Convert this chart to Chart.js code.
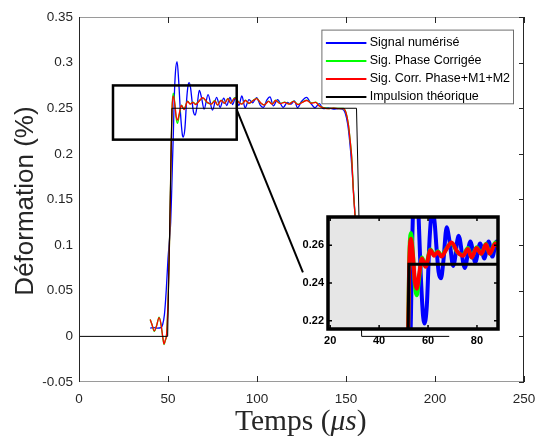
<!DOCTYPE html>
<html lang="fr">
<head>
<meta charset="utf-8">
<title>Déformation en fonction du temps</title>
<script src="https://cdn.jsdelivr.net/npm/chart.js@4.4.1/dist/chart.umd.min.js"></script>
<style>
  html, body { margin: 0; padding: 0; background: #fff; }
  #cadre { position: relative; width: 536px; height: 436px; }
  #loupe { position: absolute; left: 290px; top: 204px; }
</style>
</head>
<body>
<div id="cadre">
  <canvas id="graphe" width="536" height="436"></canvas>
  <canvas id="loupe" width="222" height="146"></canvas>
</div>
<script>
// ---------------------------------------------------------------------------
// Données (temps en µs, déformation en %)
// ---------------------------------------------------------------------------
const legende = ['Signal numérisé', 'Sig. Phase Corrigée', 'Sig. Corr. Phase+M1+M2', 'Impulsion théorique'];
const couleurs = ['#0000ff', '#00ff00', '#ff0000', '#000000'];

const tBleu = [40, 42, 44, 46, 47, 48, 49, 50, 51, 51.5, 52, 52.5, 53, 53.5, 54.2, 55.1, 56, 57, 58, 58.5,
  59.5, 60.5, 61.2, 61.9, 62.7, 63.5, 64.3, 65.3, 66.3, 67.6, 68.8, 70.3, 72.5, 75, 77.3, 79.3, 81.3, 83, 84.8, 86.3,
  88, 89.8, 91.5, 93.3, 95.5, 97.5, 99.8, 101.8, 103.6, 105.5, 107.3, 109.2, 111.5, 114.8, 117, 119, 121, 122.8, 125, 127.9,
  130, 132.6, 135, 137.3, 140, 143, 146, 148, 149.5, 151, 152.5, 153.5, 154.5, 155.5, 157, 158, 159];
const signalNumerise = [0.009, 0.0095, 0.009, 0.0095, 0.013, 0.024, 0.05, 0.085, 0.11, 0.125, 0.155, 0.19, 0.222, 0.26, 0.29, 0.301, 0.28, 0.245, 0.222, 0.2185,
  0.228, 0.26, 0.274, 0.278, 0.272, 0.258, 0.246, 0.2425, 0.252, 0.2695, 0.262, 0.249, 0.265, 0.248, 0.262, 0.251, 0.261, 0.253, 0.262, 0.254,
  0.262, 0.253, 0.2635, 0.2505, 0.2595, 0.256, 0.2615, 0.2535, 0.251, 0.259, 0.2625, 0.2525, 0.2595, 0.251, 0.2565, 0.2545, 0.258, 0.2505, 0.2575, 0.262,
  0.256, 0.2505, 0.255, 0.2495, 0.2505, 0.249, 0.2495, 0.249, 0.245, 0.232, 0.205, 0.18, 0.15, 0.12, 0.07, 0.035, 0.01];

const tCorr = [40, 41, 42.3, 43.5, 45, 46, 47, 47.8, 48.5, 49.2, 50.2, 51.1, 51.8, 52.3, 53, 53.8, 54.6, 55.4, 56.3, 57.5,
  59, 61, 62.5, 64, 65.5, 67.3, 69.6, 72, 74.3, 76.3, 77.8, 79.8, 81.8, 83.7, 85.2, 87.5, 89.5, 91.5, 93.5, 95.5,
  97.5, 99.8, 102, 104, 106.5, 108.5, 110.5, 113, 115.5, 118, 120.5, 123, 125.5, 128, 130.5, 133, 135, 137.5, 140, 143,
  146, 148.5, 150, 151.3, 152.3, 153.2, 154.1, 155.1, 156, 157, 158, 159];
const phaseCorrigee = [0.0185, 0.013, 0.0055, 0.011, 0.021, 0.014, 0.0, -0.009, -0.0045, 0.002, 0.05, 0.125, 0.21, 0.252, 0.2665, 0.256, 0.239, 0.2335, 0.242, 0.2535,
  0.249, 0.2578, 0.2548, 0.2568, 0.2545, 0.2578, 0.2612, 0.2562, 0.2548, 0.2585, 0.2535, 0.259, 0.2555, 0.2608, 0.2555, 0.2615, 0.2575, 0.2548, 0.2588, 0.2552,
  0.2583, 0.2608, 0.2558, 0.2538, 0.2578, 0.2548, 0.2588, 0.2553, 0.2568, 0.2548, 0.2578, 0.2543, 0.2568, 0.2588, 0.2558, 0.2568, 0.2528, 0.2508, 0.2497, 0.2502,
  0.2497, 0.2497, 0.2452, 0.233, 0.2155, 0.197, 0.162, 0.132, 0.101, 0.066, 0.031, 0.011];
const corrM1M2 = [0.0185, 0.013, 0.006, 0.011, 0.0205, 0.014, 0.0, -0.0085, -0.004, 0.002, 0.05, 0.125, 0.21, 0.25, 0.2635, 0.255, 0.241, 0.237, 0.244, 0.253,
  0.2486, 0.2574, 0.2545, 0.2565, 0.254, 0.2575, 0.2615, 0.2565, 0.2545, 0.258, 0.2535, 0.2585, 0.2555, 0.2605, 0.2555, 0.261, 0.257, 0.2545, 0.2585, 0.2555,
  0.258, 0.2605, 0.256, 0.2535, 0.2575, 0.2545, 0.2585, 0.255, 0.2565, 0.2545, 0.2575, 0.254, 0.2565, 0.2585, 0.2555, 0.2565, 0.2525, 0.2505, 0.2495, 0.25,
  0.2495, 0.2495, 0.245, 0.2326, 0.215, 0.196, 0.16, 0.131, 0.1, 0.065, 0.03, 0.01];

const tImpulsion = [0, 49.8, 52.2, 155.9, 158.8, 208];
const impulsion = [0, 0, 0.25, 0.25, 0, 0];

const xTicks = [0, 50, 100, 150, 200, 250];
const xTickLabels = ['0', '50', '100', '150', '200', '250'];
const yTicks = [-0.05, 0, 0.05, 0.1, 0.15, 0.2, 0.25, 0.3, 0.35];
const yTickLabels = ['-0.05', '0', '0.05', '0.1', '0.15', '0.2', '0.25', '0.3', '0.35'];

const xTicksLoupe = [20, 40, 60, 80];
const xTickLabelsLoupe = ['20', '40', '60', '80'];
const yTicksLoupe = [0.22, 0.24, 0.26];
const yTickLabelsLoupe = ['0.22', '0.24', '0.26'];

// zone agrandie (en unités des axes) et trait de renvoi vers l'encart
const zoneLoupe = { x0: 19.1, x1: 88.6, y0: 0.2156, y1: 0.275 };
const renvoi = { x0: 88.6, y0: 0.2485, x1: 125.8, y1: 0.0702 };

const SANS = "'Liberation Sans', Arial, sans-serif";
const GRIS = '#262626';
Chart.defaults.font.family = SANS;

const points = (ts, vs) => ts.map((t, i) => ({ x: t, y: vs[i] }));

// Les quatre courbes, avec des épaisseurs différentes selon le graphe
function courbes(ep) {
  const signal = (i, data, ordre) => ({
    label: legende[i], data, borderColor: couleurs[i], borderWidth: ep[i],
    cubicInterpolationMode: 'monotone', pointRadius: 0, order: ordre
  });
  return [
    signal(0, points(tBleu, signalNumerise), 4),
    signal(1, points(tCorr, phaseCorrigee), 3),
    signal(2, points(tCorr, corrM1M2), 2),
    { label: legende[3], data: points(tImpulsion, impulsion), borderColor: couleurs[3], borderWidth: ep[3],
      tension: 0, pointRadius: 0, order: 1 }
  ];
}

function axe(min, max, ticks, labels, font, padding, fit) {
  return {
    type: 'linear', min, max,
    afterBuildTicks: s => { s.ticks = ticks.map(v => ({ value: v })); },
    afterFit: s => { fit(s); s.paddingLeft = 0; s.paddingRight = 0; s.paddingTop = 0; s.paddingBottom = 0; },
    ticks: { callback: (v, i) => labels[i], font, color: font.weight ? '#000' : GRIS, padding, autoSkip: false, maxRotation: 0 },
    grid: { display: false, drawTicks: false },
    border: { display: false }
  };
}

// ---------------------------------------------------------------------------
// Cadre, graduations, rectangle de zoom, légende et titres du graphe principal
// ---------------------------------------------------------------------------
const habillage = {
  id: 'habillage',
  afterDatasetsDraw(chart) {
    const { ctx, chartArea: a, scales: { x, y } } = chart;
    ctx.save();

    // rectangle de la zone agrandie + trait de renvoi
    ctx.strokeStyle = '#000';
    ctx.lineWidth = 2.5;
    ctx.strokeRect(x.getPixelForValue(zoneLoupe.x0), y.getPixelForValue(zoneLoupe.y1),
      x.getPixelForValue(zoneLoupe.x1) - x.getPixelForValue(zoneLoupe.x0),
      y.getPixelForValue(zoneLoupe.y0) - y.getPixelForValue(zoneLoupe.y1));
    ctx.lineWidth = 2;
    ctx.beginPath();
    ctx.moveTo(x.getPixelForValue(renvoi.x0), y.getPixelForValue(renvoi.y0));
    ctx.lineTo(x.getPixelForValue(renvoi.x1), y.getPixelForValue(renvoi.y1));
    ctx.stroke();

    // cadre : haut et bas plus clairs
    ctx.lineWidth = 1;
    ctx.strokeStyle = '#9a9a9a';
    ctx.beginPath();
    ctx.moveTo(a.left, a.top + 0.5); ctx.lineTo(a.right, a.top + 0.5);
    ctx.moveTo(a.left, a.bottom - 0.5); ctx.lineTo(a.right, a.bottom - 0.5);
    ctx.stroke();
    ctx.strokeStyle = GRIS;
    ctx.beginPath();
    ctx.moveTo(a.left + 0.5, a.top); ctx.lineTo(a.left + 0.5, a.bottom);
    ctx.moveTo(a.right - 0.5, a.top); ctx.lineTo(a.right - 0.5, a.bottom);
    // graduations vers l'intérieur
    xTicks.forEach(v => {
      const px = Math.round(x.getPixelForValue(v)) + 0.5;
      ctx.moveTo(px, a.top); ctx.lineTo(px, a.top + 6);
      ctx.moveTo(px, a.bottom); ctx.lineTo(px, a.bottom - 6);
    });
    yTicks.forEach(v => {
      const py = Math.round(y.getPixelForValue(v)) + 0.5;
      ctx.moveTo(a.right, py); ctx.lineTo(a.right - 5, py);
    });
    ctx.stroke();

    // légende
    const lg = { l: a.right - 202.6, t: a.top + 12.6, w: 192.6, h: 74.7 };
    ctx.fillStyle = '#fff';
    ctx.fillRect(lg.l, lg.t, lg.w, lg.h);
    ctx.strokeStyle = '#6e6e6e';
    ctx.lineWidth = 1;
    ctx.strokeRect(lg.l + 0.5, lg.t + 0.5, lg.w - 1, lg.h - 1);
    ctx.font = '12.5px ' + SANS;
    ctx.textBaseline = 'middle';
    ctx.textAlign = 'left';
    legende.forEach((texte, i) => {
      // trait sur deux lignes de pixels pour garder sa couleur
      const yy = 2 * Math.round((lg.t + 11.4 + i * 18) / 2) + 1;
      ctx.strokeStyle = couleurs[i];
      ctx.lineWidth = 1.8;
      ctx.beginPath();
      ctx.moveTo(lg.l + 4.5, yy); ctx.lineTo(lg.l + 45, yy);
      ctx.stroke();
      ctx.fillStyle = '#000';
      ctx.fillText(texte, lg.l + 48.3, yy);
    });

    // titre vertical
    ctx.fillStyle = GRIS;
    ctx.font = '26px ' + SANS;
    ctx.textAlign = 'center';
    ctx.textBaseline = 'alphabetic';
    ctx.save();
    ctx.translate(33, 201);
    ctx.rotate(-Math.PI / 2);
    ctx.fillText('Déformation (%)', 0, 0);
    ctx.restore();

    // titre horizontal, µs en italique
    const droit = "29.5px 'Liberation Serif', 'Times New Roman', serif";
    const ital = "italic 29.5px 'Liberation Serif', 'Times New Roman', serif";
    const morceaux = [['Temps (', droit], ['\u03bcs', ital], [')', droit]];
    let total = 0;
    morceaux.forEach(m => { ctx.font = m[1]; total += ctx.measureText(m[0]).width; });
    let cx = 300.8 - total / 2;
    ctx.textAlign = 'left';
    morceaux.forEach(m => { ctx.font = m[1]; ctx.fillText(m[0], cx, 430); cx += ctx.measureText(m[0]).width; });

    ctx.restore();
  }
};

new Chart(document.getElementById('graphe'), {
  type: 'line',
  data: { datasets: courbes([1.3, 1.3, 1.3, 1]) },
  options: {
    responsive: false,
    animation: false,
    layout: { padding: { top: 17, right: 12, left: 0, bottom: 0 } },
    plugins: { legend: { display: false }, tooltip: { enabled: false } },
    scales: {
      x: axe(0, 250, xTicks, xTickLabels, { size: 13.5 }, 9, s => { s.height = 54; }),
      y: axe(-0.05, 0.35, yTicks, yTickLabels, { size: 13.5 }, 6, s => { s.width = 79; })
    }
  },
  plugins: [habillage]
});

// ---------------------------------------------------------------------------
// Encart : agrandissement du front montant
// ---------------------------------------------------------------------------
const cadreLoupe = {
  id: 'cadreLoupe',
  beforeDatasetsDraw(chart) {
    const { ctx, chartArea: a } = chart;
    ctx.save();
    ctx.fillStyle = '#e6e6e6';
    ctx.fillRect(a.left, a.top, a.right - a.left, a.bottom - a.top);
    ctx.restore();
  },
  afterDatasetsDraw(chart) {
    const { ctx, chartArea: a, scales: { x, y } } = chart;
    ctx.save();
    ctx.strokeStyle = '#000';
    ctx.lineWidth = 1.5;
    ctx.beginPath();
    xTicksLoupe.forEach(v => {
      const px = x.getPixelForValue(v);
      ctx.moveTo(px, a.top); ctx.lineTo(px, a.top + 4);
      ctx.moveTo(px, a.bottom); ctx.lineTo(px, a.bottom - 4);
    });
    yTicksLoupe.forEach(v => {
      const py = y.getPixelForValue(v);
      ctx.moveTo(a.left, py); ctx.lineTo(a.left + 4, py);
      ctx.moveTo(a.right, py); ctx.lineTo(a.right - 4, py);
    });
    ctx.stroke();
    ctx.lineWidth = 3.5;
    ctx.strokeRect(a.left, a.top, a.right - a.left, a.bottom - a.top);
    ctx.restore();
  }
};

new Chart(document.getElementById('loupe'), {
  type: 'line',
  data: { datasets: courbes([4, 4, 4, 3]) },
  options: {
    responsive: false,
    animation: false,
    layout: { padding: { top: 13, right: 14, left: 0, bottom: 0 } },
    plugins: { legend: { display: false }, tooltip: { enabled: false } },
    scales: {
      x: axe(zoneLoupe.x0, zoneLoupe.x1, xTicksLoupe, xTickLabelsLoupe, { size: 11, weight: 'bold' }, 5, s => { s.height = 21; }),
      y: axe(zoneLoupe.y0, zoneLoupe.y1, yTicksLoupe, yTickLabelsLoupe, { size: 11, weight: 'bold' }, 4, s => { s.width = 38; })
    }
  },
  plugins: [cadreLoupe]
});
</script>
</body>
</html>
